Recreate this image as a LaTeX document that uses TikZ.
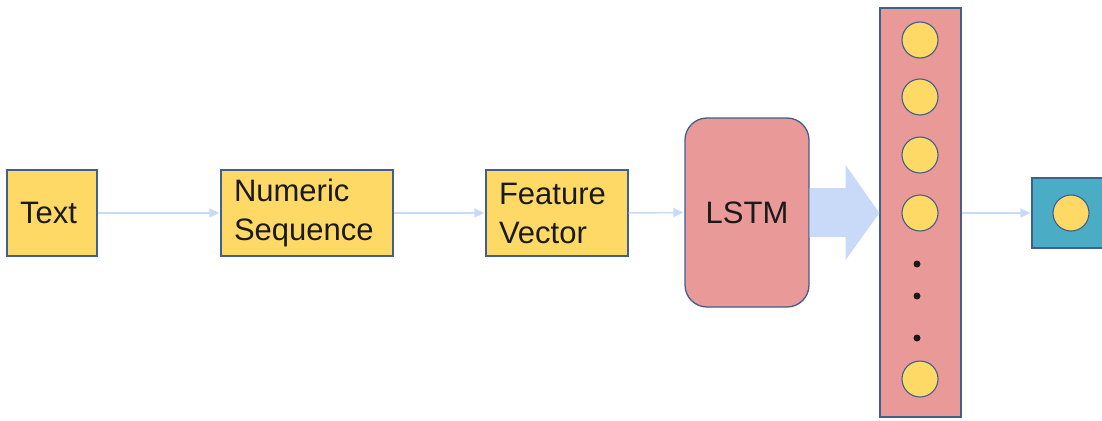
\documentclass[tikz,border=0pt]{standalone}
\usepackage{fontspec}
\setmainfont{Liberation Sans}
\usetikzlibrary{arrows.meta,calc}
\definecolor{edge}{HTML}{3F5F8C}
\definecolor{boxyellow}{HTML}{FFD966}
\definecolor{lstmred}{HTML}{EA9999}
\definecolor{outteal}{HTML}{4BACC6}
\definecolor{flowblue}{HTML}{C9DAF8}
\definecolor{ink}{HTML}{1A1A1A}
\tikzset{
  stagebox/.style={draw=edge, line width=1.3pt, fill=boxyellow, rectangle,
    minimum height=86pt, inner xsep=13pt, inner ysep=0pt, align=left,
    font=\fontsize{31}{39}\selectfont, text=ink},
  unit/.style={circle, draw=edge, line width=1.1pt, fill=boxyellow,
    minimum size=36pt, inner sep=0pt},
  ellip/.style={circle, fill=ink, minimum size=7pt, inner sep=0pt},
  flow/.style={draw=flowblue, line width=1.5pt,
    -{Triangle[length=10pt,width=9pt]}, shorten >=1pt},
}
\begin{document}
\begin{tikzpicture}[x=1pt,y=-1pt]
\useasboundingbox (0,0) rectangle (1102,420);
\clip (0,0) rectangle (1102,420);

% pipeline stages
\node[stagebox, text width=64pt]  (txt)  at (52,213)  {Text};
\node[stagebox, text width=146pt] (num)  at (307,213) {Numeric\\Sequence};
\node[stagebox, text width=116pt] (feat) at (557,213) {Feature\\Vector};
\node[draw=edge, line width=1.3pt, fill=lstmred, rounded corners=22pt,
      minimum width=124pt, minimum height=189pt, inner sep=0pt,
      font=\fontsize{31}{39}\selectfont, text=ink] (lstm) at (747,212.5) {LSTM};

% hidden layer column
\node[draw=edge, line width=1.3pt, fill=lstmred, minimum width=81pt,
      minimum height=409pt, inner sep=0pt] (col) at (920.5,212.5) {};
\node[unit] (h1) at (920,40)  {};
\node[unit] (h2) at (920,97)  {};
\node[unit] (h3) at (920,155) {};
\node[unit] (h4) at (920,213) {};
\node[ellip] (d1) at (917,264) {};
\node[ellip] (d2) at (917,296) {};
\node[ellip] (d3) at (917,338) {};
\node[unit] (hn) at (920,379) {};

% output unit
\node[draw=edge, line width=1.3pt, fill=outteal, minimum width=78pt,
      minimum height=70pt, inner sep=0pt] (out) at (1071,213) {};
\node[unit] (o1) at (out.center) {};

% thin connectors
\draw[flow] (txt.east)  -- (num.west);
\draw[flow] (num.east)  -- (feat.west);
\draw[flow] (feat.east) -- (lstm.west);
\draw[flow] (col.east |- h4) -- (out.west);

% block arrow from LSTM to the hidden layer
\fill[flowblue]
  ($(lstm.east)+(0,-24.5)$) -- ($(lstm.east)+(36,-24.5)$) --
  ($(lstm.east)+(36,-47.5)$) -- (col.west |- h4) --
  ($(lstm.east)+(36,47.5)$) -- ($(lstm.east)+(36,24.5)$) --
  ($(lstm.east)+(0,24.5)$) -- cycle;
\end{tikzpicture}
\end{document}
